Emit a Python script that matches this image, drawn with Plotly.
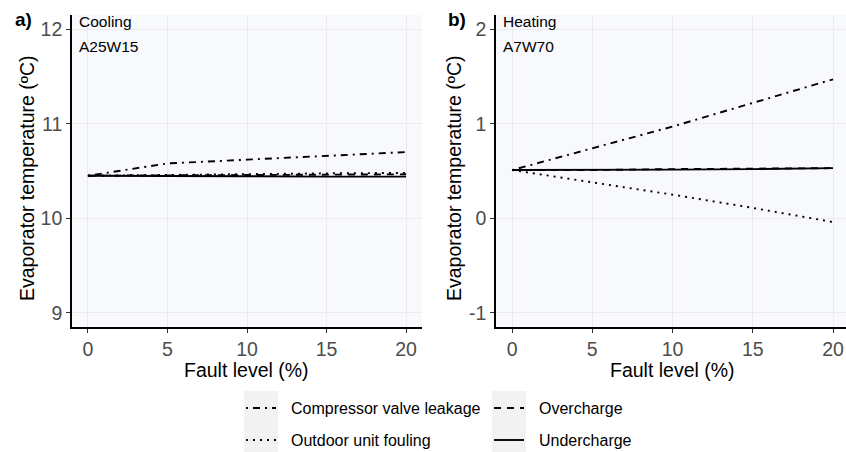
import plotly.graph_objects as go

# Fault levels (%) and evaporator temperature (°C) per fault type
fault_level = [0, 5, 10, 15, 20]

cooling_valve_leak = [10.45, 10.58, 10.62, 10.66, 10.70]
cooling_overcharge = [10.45, 10.455, 10.46, 10.46, 10.465]
cooling_fouling = [10.45, 10.46, 10.47, 10.475, 10.48]
cooling_undercharge = [10.45, 10.45, 10.445, 10.44, 10.44]

heating_valve_leak = [0.51, 0.74, 0.97, 1.22, 1.47]
heating_overcharge = [0.51, 0.51, 0.52, 0.525, 0.53]
heating_fouling = [0.51, 0.38, 0.25, 0.11, -0.04]
heating_undercharge = [0.51, 0.51, 0.515, 0.52, 0.53]

series_names = ["Compressor valve leakage", "Overcharge", "Outdoor unit fouling", "Undercharge"]
x_ticks = [0, 5, 10, 15, 20]
y_ticks_cool = [9, 10, 11, 12]
y_ticks_heat = [-1, 0, 1, 2]
y_labels_heat = ["-1", "0", "1", "2"]

W, H = 846, 452
FONT = "Liberation Sans, Arial, sans-serif"
LW = 1.9
dashes = {
    "Compressor valve leakage": "2px,5px,7px,5px",
    "Overcharge": "7px,6px",
    "Outdoor unit fouling": "2px,5px",
    "Undercharge": "solid",
}

fig = go.Figure()

panels = [
    ("x", "y", [cooling_valve_leak, cooling_overcharge, cooling_fouling, cooling_undercharge]),
    ("x2", "y2", [heating_valve_leak, heating_overcharge, heating_fouling, heating_undercharge]),
]
for xa, ya, values in panels:
    for name, vals in zip(series_names, values):
        fig.add_trace(go.Scatter(
            x=fault_level, y=vals, mode="lines", name=name, showlegend=False,
            xaxis=xa, yaxis=ya,
            line=dict(color="black", width=LW, dash=dashes[name]),
        ))

def px_x(p):
    return p / W

def px_y(p):
    return 1 - p / H

top, bottom = px_y(15), px_y(327)

axis_common = dict(
    showline=True, linecolor="black", linewidth=1.6, mirror=False,
    showgrid=True, gridcolor="#EBEBEB", gridwidth=1.4,
    zeroline=False, ticks="outside", ticklen=4, tickcolor="#333333", tickwidth=1,
    tickfont=dict(family=FONT, size=19.5, color="#4D4D4D"),
    automargin=False, fixedrange=True,
)

fig.update_layout(
    width=W, height=H,
    margin=dict(l=0, r=0, t=0, b=0),
    paper_bgcolor="white",
    plot_bgcolor="#F8F9FD",
    showlegend=False,
    xaxis=dict(axis_common, domain=[px_x(72), px_x(422)], range=[-1, 21],
               tickvals=x_ticks, anchor="y"),
    yaxis=dict(axis_common, domain=[bottom, top], range=[8.85, 12.15],
               tickvals=y_ticks_cool, anchor="x"),
    xaxis2=dict(axis_common, domain=[px_x(496), 1.0], range=[-1, 20.81],
                tickvals=x_ticks, anchor="y2"),
    yaxis2=dict(axis_common, domain=[bottom, top], range=[-1.15, 2.15],
                tickvals=y_ticks_heat, ticktext=y_labels_heat, anchor="x2"),
)

ann = []
# axis titles
for cx in (247, 672):
    ann.append(dict(text="Fault level (%)", x=px_x(cx), y=px_y(370), xref="paper", yref="paper",
                    showarrow=False, xanchor="center", yanchor="middle",
                    font=dict(family=FONT, size=19.5, color="black")))
for cx in (27, 454):
    ann.append(dict(text="Evaporator temperature (ºC)", x=px_x(cx), y=px_y(178), xref="paper", yref="paper",
                    showarrow=False, xanchor="center", yanchor="middle", textangle=-90,
                    font=dict(family=FONT, size=19.5, color="black")))
# panel tags and condition labels
for tag, tx, l1, l2, lx in (("a)", 13, "Cooling", "A25W15", 77), ("b)", 446, "Heating", "A7W70", 501)):
    ann.append(dict(text="<b>%s</b>" % tag, x=px_x(tx), y=px_y(19), xref="paper", yref="paper",
                    showarrow=False, xanchor="left", yanchor="middle",
                    font=dict(family=FONT, size=19, color="black")))
    ann.append(dict(text=l1, x=px_x(lx), y=px_y(22), xref="paper", yref="paper",
                    showarrow=False, xanchor="left", yanchor="middle",
                    font=dict(family=FONT, size=15.5, color="black")))
    ann.append(dict(text=l2, x=px_x(lx), y=px_y(46), xref="paper", yref="paper",
                    showarrow=False, xanchor="left", yanchor="middle",
                    font=dict(family=FONT, size=15.5, color="black")))

# legend: two columns of keys on grey backgrounds
shapes = []
legend_layout = [
    ("Compressor valve leakage", 244, 408),
    ("Outdoor unit fouling", 244, 440),
    ("Overcharge", 492, 408),
    ("Undercharge", 492, 440),
]
for kx in (244, 492):
    shapes.append(dict(type="rect", xref="paper", yref="paper",
                       x0=px_x(kx), x1=px_x(kx + 34), y0=px_y(452), y1=px_y(391),
                       fillcolor="#F2F2F2", line=dict(width=0), layer="below"))
for name, kx, ky in legend_layout:
    shapes.append(dict(type="line", xref="paper", yref="paper",
                       x0=px_x(kx + 2), x1=px_x(kx + 32), y0=px_y(ky), y1=px_y(ky),
                       line=dict(color="black", width=LW, dash=dashes[name])))
    ann.append(dict(text=name, x=px_x(kx + 45), y=px_y(ky), xref="paper", yref="paper",
                    showarrow=False, xanchor="left", yanchor="middle",
                    font=dict(family=FONT, size=16, color="black")))

fig.update_layout(annotations=ann, shapes=shapes)
fig.write_html("out.html")
